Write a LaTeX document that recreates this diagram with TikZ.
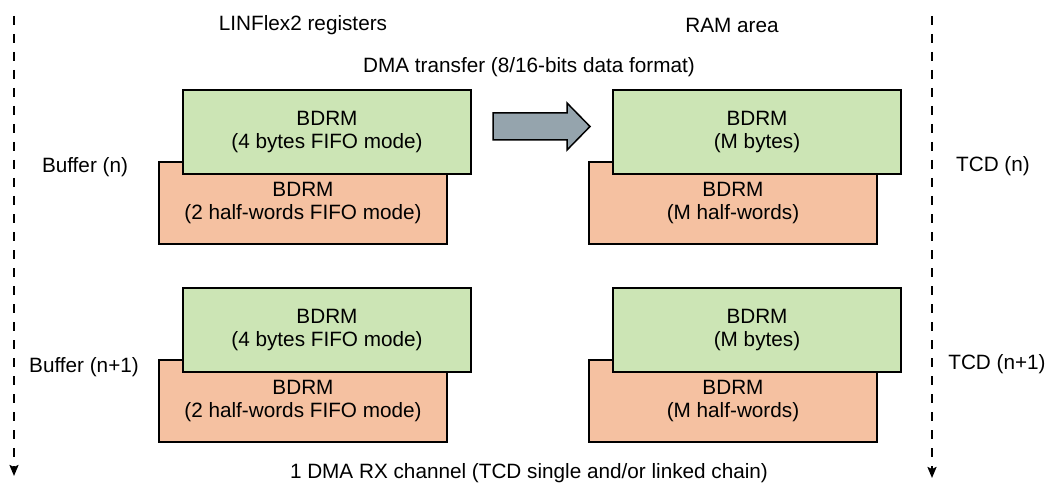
\documentclass[tikz,border=0pt]{standalone}
\usepackage{fontspec}
\setmainfont{Liberation Sans}
\usetikzlibrary{arrows.meta}
\definecolor{bytegreen}{HTML}{CCE5B5}
\definecolor{wordorange}{HTML}{F5C1A1}
\definecolor{arrowgray}{HTML}{95A4AD}
\begin{document}
\begin{tikzpicture}[x=1bp, y=-1bp, font=\fontsize{20.8}{23.5}\selectfont,
		regbox/.style={draw=black, line width=2bp, minimum width=288bp, align=center, inner sep=0pt},
		bytebox/.style={regbox, fill=bytegreen, minimum height=84bp},
		wordbox/.style={regbox, fill=wordorange, minimum height=82bp},
		flow/.style={line width=2bp, dash pattern=on 9bp off 9bp, -{Stealth[length=11bp, width=9bp, inset=2bp]}}]
	\useasboundingbox (0,0) rectangle (1050,485);
	\coordinate (ltop) at (14,16); \coordinate (lbot) at (14,476);
	\coordinate (rtop) at (932,16); \coordinate (rbot) at (932,478);
	\draw[flow] (ltop)--(lbot);
	\draw[flow] (rtop)--(rbot);
	% register side and RAM side, one pair per buffer
	\node[wordbox] (regw1) at (303,203) {BDRM\\(2 half-words FIFO mode)};
	\node[bytebox] (regb1) at (327,132) {BDRM\\(4 bytes FIFO mode)};
	\node[wordbox] (ramw1) at (733,203) {BDRM\\(M half-words)};
	\node[bytebox] (ramb1) at (757,132) {BDRM\\(M bytes)};
	\node[wordbox] (regw2) at (303,401) {BDRM\\(2 half-words FIFO mode)};
	\node[bytebox] (regb2) at (327,330) {BDRM\\(4 bytes FIFO mode)};
	\node[wordbox] (ramw2) at (733,401) {BDRM\\(M half-words)};
	\node[bytebox] (ramb2) at (757,330) {BDRM\\(M bytes)};
	\draw[fill=arrowgray, line width=1.5bp, line join=miter]
		(493,113)--(567,113)--(567,103)--(590,126.5)--(567,150)--(567,140)--(493,140)--cycle;
	\node (regs) at (303,25) {LINFlex2 registers};
	\node (ram) at (732,25) {RAM area};
	\node (xfer) at (529,67) {DMA transfer (8/16-bits data format)};
	\node (chan) at (529,473) {1 DMA RX channel (TCD single and/or linked chain)};
	\node (buf1) at (85,167) {Buffer (n)};
	\node (buf2) at (84,367) {Buffer (n+1)};
	\node (tcd1) at (993,166) {TCD (n)};
	\node (tcd2) at (997,364) {TCD (n+1)};
\end{tikzpicture}
\end{document}
